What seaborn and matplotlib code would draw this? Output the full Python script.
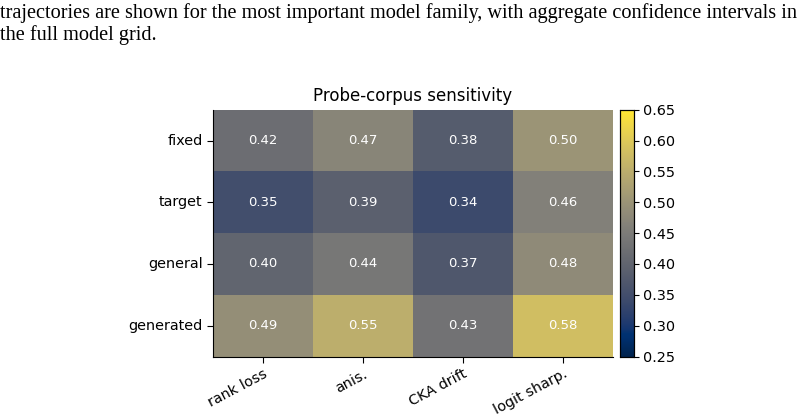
import numpy as np
import pandas as pd
import seaborn as sns
import matplotlib.pyplot as plt

rows = ['fixed', 'target', 'general', 'generated']
cols = ['rank loss', 'anis.', 'CKA drift', 'logit sharp.']
fixed = [0.42, 0.47, 0.38, 0.50]
target = [0.35, 0.39, 0.34, 0.46]
general = [0.40, 0.44, 0.37, 0.48]
generated = [0.49, 0.55, 0.43, 0.58]

caption = ('trajectories are shown for the most important model family, with aggregate confidence intervals in\n'
           'the full model grid.')

df = pd.DataFrame([fixed, target, general, generated], index=rows, columns=cols)

fig = plt.figure(figsize=(8.04, 4.17), dpi=100)
ax = fig.add_axes([0.265, 0.145, 0.497, 0.592])
cax = fig.add_axes([0.771, 0.145, 0.017, 0.592])

p = sns.heatmap(df, ax=ax, cbar_ax=cax, cmap='cividis', vmin=0.25, vmax=0.65,
                annot=True, fmt='.2f', annot_kws={'size': 9.5, 'color': 'white'})
for t in p.texts:
    t.set_color('white')

ax.set_title('Probe-corpus sensitivity', fontsize=12)
ax.tick_params(axis='x', labelsize=10.4, length=4, rotation=28)
ax.tick_params(axis='y', labelsize=10.4, length=4, rotation=0)
for lab in ax.get_xticklabels():
    lab.set_ha('right')
    lab.set_rotation_mode('anchor')
ax.spines['left'].set_visible(True)
ax.spines['bottom'].set_visible(True)
ax.set_xlabel('')
ax.set_ylabel('')

cax.tick_params(labelsize=10.4)
cax.set_yticks(np.arange(0.25, 0.66, 0.05))
for s in cax.spines.values():
    s.set_visible(True)
    s.set_linewidth(0.8)

fig.text(0.0, 0.993, caption, family='Liberation Serif', fontsize=14.6, va='top', ha='left',
         linespacing=1.12)

plt.savefig('out.png', dpi=100)
